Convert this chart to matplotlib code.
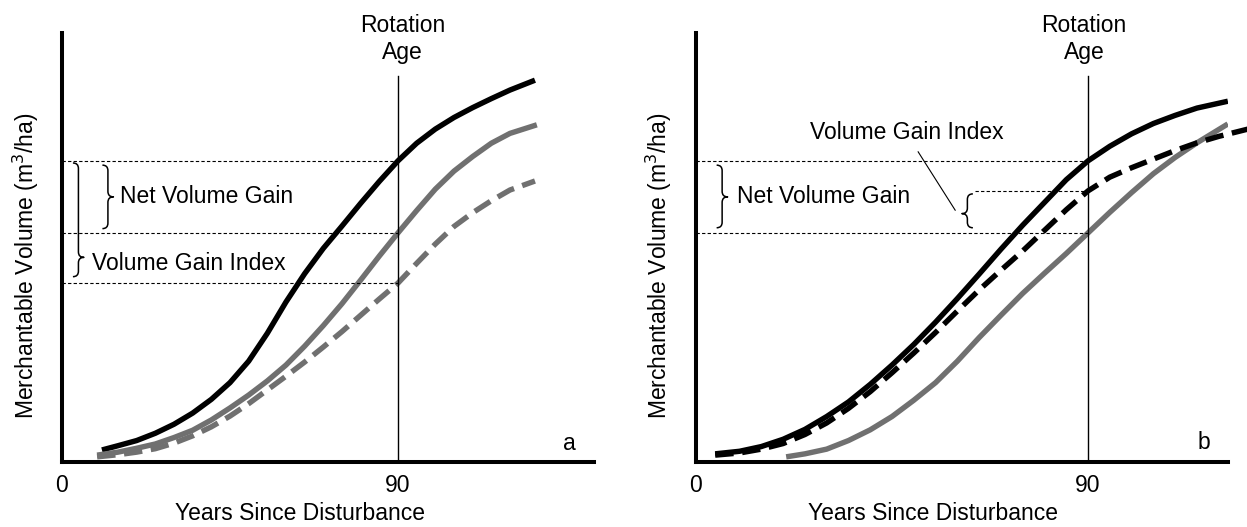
import matplotlib
matplotlib.use("Agg")
import matplotlib.pyplot as plt
from matplotlib.path import Path
from matplotlib.patches import PathPatch

plt.rcParams['font.family'] = ['Liberation Sans', 'DejaVu Sans']

# ---------------- data ----------------
# Panel a
a_black_x = [10.7, 15, 20, 25, 30, 35, 40, 45, 50, 55, 60, 65, 70, 75, 80, 85, 90, 95, 100, 105, 110, 115, 120, 126.7]
a_black_y = [2.8, 3.8, 5.0, 6.7, 8.8, 11.4, 14.6, 18.5, 23.5, 30.0, 37.3, 43.9, 49.8, 55.0, 60.3, 65.4, 70.2, 74.3, 77.6, 80.3, 82.6, 84.7, 86.7, 89.0]
a_gray_x = [9.4, 15, 20, 25, 30, 35, 40, 45, 50, 55, 60, 65, 70, 75, 80, 85, 90, 95, 100, 105, 110, 115, 120, 127.2]
a_gray_y = [1.6, 2.3, 3.2, 4.2, 5.7, 7.4, 9.8, 12.6, 15.6, 18.9, 22.6, 27.0, 31.8, 36.9, 42.4, 48.0, 53.4, 58.6, 63.6, 67.8, 71.2, 74.3, 76.6, 78.6]
a_dash_x = [9.4, 15, 20, 25, 30, 35, 40, 45, 50, 55, 60, 65, 70, 75, 80, 85, 90, 95, 100, 105, 110, 115, 120, 126.7]
a_dash_y = [1.2, 1.7, 2.3, 3.1, 4.4, 6.1, 8.2, 10.7, 13.6, 16.8, 20.0, 23.3, 26.8, 30.4, 34.2, 38.0, 41.7, 46.3, 50.8, 54.9, 58.1, 60.9, 63.4, 65.5]

# Panel b
b_black_x = [4.4, 10, 15, 20, 25, 30, 35, 40, 45, 50, 55, 60, 65, 70, 75, 80, 85, 90, 95, 100, 105, 110, 115, 122.1]
b_black_y = [1.9, 2.5, 3.6, 5.3, 7.6, 10.6, 14.0, 18.1, 22.6, 27.4, 32.6, 38.1, 43.8, 49.6, 55.2, 60.5, 65.8, 70.2, 73.6, 76.5, 78.9, 80.8, 82.5, 84.1]
b_dash_x = [4.4, 10, 15, 20, 25, 30, 35, 40, 45, 50, 55, 60, 65, 70, 75, 80, 85, 90, 95, 100, 105, 110, 115, 120, 126.7]
b_dash_y = [1.6, 2.1, 3.0, 4.3, 6.4, 9.1, 12.5, 16.4, 20.8, 25.4, 30.2, 35.2, 40.1, 44.7, 49.2, 54.0, 58.8, 63.2, 66.4, 68.6, 70.6, 72.6, 74.4, 75.9, 77.6]
b_gray_x = [20.7, 25, 30, 35, 40, 45, 50, 55, 60, 65, 70, 75, 80, 85, 90, 95, 100, 105, 110, 115, 122.1]
b_gray_y = [1.2, 1.9, 3.0, 5.0, 7.5, 10.6, 14.4, 18.5, 23.5, 29.0, 34.2, 39.3, 44.0, 48.6, 53.4, 58.2, 62.8, 67.2, 71.0, 74.4, 78.8]

rotation_age = 90
x_ticks = [0, 90]
x_label = "Years Since Disturbance"
y_label = "Merchantable Volume (m$^3$/ha)"

# ---------------- styling ----------------
W, H = 1247, 527
FS = 16.5
GRAY = '#707070'
LW = 3.9
DASH = (0, (3.4, 1.6))

fig = plt.figure(figsize=(W / 100, H / 100), dpi=100)


def make_axes(left_px, right_px, xmax):
    ax = fig.add_axes([left_px / W, (H - 462) / H, (right_px - left_px) / W, (462 - 33) / H])
    ax.set_xlim(0, xmax)
    ax.set_ylim(0, 100)
    for s in ['top', 'right']:
        ax.spines[s].set_visible(False)
    for s in ['left', 'bottom']:
        ax.spines[s].set_linewidth(2.9)
        ax.spines[s].set_capstyle('projecting')
    ax.set_yticks([])
    ax.set_xticks(x_ticks)
    ax.set_xticklabels([str(t) for t in x_ticks], fontsize=FS)
    ax.tick_params(axis='x', length=0, pad=9)
    ax.patch.set_visible(False)
    return ax


def px_per_unit(ax):
    p0 = ax.transData.transform((0, 0))
    p1 = ax.transData.transform((1, 1))
    return p1[0] - p0[0], p1[1] - p0[1]


def brace(ax, x, y_top, y_bot, y_tip, direction=1, w_px=5.5, r_px=5.5):
    sx, sy = px_per_unit(ax)
    w = w_px / sx
    r = r_px / sy
    d = direction
    verts = [
        (x - d * w, y_top), (x, y_top), (x, y_top - r),
        (x, y_tip + r), (x, y_tip), (x + d * w, y_tip),
        (x, y_tip), (x, y_tip - r),
        (x, y_bot + r), (x, y_bot), (x - d * w, y_bot),
    ]
    codes = [Path.MOVETO, Path.CURVE3, Path.CURVE3,
             Path.LINETO, Path.CURVE3, Path.CURVE3,
             Path.CURVE3, Path.CURVE3,
             Path.LINETO, Path.CURVE3, Path.CURVE3]
    ax.add_patch(PathPatch(Path(verts, codes), fill=False, lw=1.1, ec='black',
                           capstyle='butt', joinstyle='round'))


def value_at(xs, ys, x0):
    return ys[xs.index(x0)]


line_kw = dict(lw=LW, solid_capstyle='butt', solid_joinstyle='round')

# ---------------- panel a ----------------
axA = make_axes(62, 594, 532 / 3.733)
axA.plot(a_black_x, a_black_y, color='black', **line_kw)
axA.plot(a_gray_x, a_gray_y, color=GRAY, **line_kw)
axA.plot(a_dash_x, a_dash_y, color=GRAY, lw=LW, linestyle=DASH, dash_capstyle='butt',
         dash_joinstyle='round')
axA.plot([rotation_age, rotation_age], [0, 90], color='black', lw=1.0)

ya1 = value_at(a_black_x, a_black_y, rotation_age)
ya2 = value_at(a_gray_x, a_gray_y, rotation_age)
ya3 = value_at(a_dash_x, a_dash_y, rotation_age)
for yv in (ya1, ya2, ya3):
    axA.plot([0, rotation_age], [yv, yv], color='black', lw=0.8, linestyle=(0, (3, 2)))

brace(axA, 12.3, ya1 - 1.0, ya2 + 1.0, (ya1 + ya2) / 2)
brace(axA, 4.4, ya1 - 0.5, ya3 + 1.5, ya3 + 6.0)
axA.text(15.5, (ya1 + ya2) / 2, "Net Volume Gain", fontsize=FS, va='center', ha='left')
axA.text(8.0, 46.2, "Volume Gain Index", fontsize=FS, va='center', ha='left')
axA.text(rotation_age + 1.2, 98.6, "Rotation\nAge", fontsize=FS, ha='center', va='center',
         linespacing=1.2, clip_on=False)
axA.text(136.0, 4.4, "a", fontsize=FS, ha='center', va='center')

# ---------------- panel b ----------------
axB = make_axes(696, 1228, 532 / 4.356)
axB.plot(b_black_x, b_black_y, color='black', **line_kw)
axB.plot(b_gray_x, b_gray_y, color=GRAY, **line_kw)
axB.plot(b_dash_x, b_dash_y, color='black', lw=LW, linestyle=DASH, dash_capstyle='butt',
         dash_joinstyle='round', clip_on=False)
axB.plot([rotation_age, rotation_age], [0, 90], color='black', lw=1.0)

yb1 = value_at(b_black_x, b_black_y, rotation_age)
yb2 = value_at(b_dash_x, b_dash_y, rotation_age)
yb3 = value_at(b_gray_x, b_gray_y, rotation_age)
for yv in (yb1, yb3):
    axB.plot([0, rotation_age], [yv, yv], color='black', lw=0.8, linestyle=(0, (3, 2)))
axB.plot([64.0, rotation_age], [yb2, yb2], color='black', lw=0.8, linestyle=(0, (3, 2)))

brace(axB, 6.0, yb1 - 1.0, yb3 + 1.2, (yb1 + yb3) / 2)
brace(axB, 62.3, yb2 - 0.7, yb3 + 1.2, (yb2 + yb3) / 2 - 0.4, direction=-1)
axB.text(9.4, (yb1 + yb3) / 2, "Net Volume Gain", fontsize=FS, va='center', ha='left')
axB.text(48.4, 76.7, "Volume Gain Index", fontsize=FS, va='center', ha='center')
axB.plot([51.0, 59.5], [72.3, 58.7], color='black', lw=0.8)
axB.text(rotation_age - 0.9, 98.6, "Rotation\nAge", fontsize=FS, ha='center', va='center',
         linespacing=1.2, clip_on=False)
axB.text(116.6, 4.6, "b", fontsize=FS, ha='center', va='center')

# axis labels
for ax, xc, yc in ((axA, 300, 26), (axB, 933, 659)):
    fig.text(xc / W, 1 - 514 / H, x_label, fontsize=FS, ha='center', va='center')
    fig.text(yc / W, 1 - 266 / H, y_label, fontsize=FS, ha='center', va='center', rotation=90)

fig.savefig("out.png", dpi=100)
